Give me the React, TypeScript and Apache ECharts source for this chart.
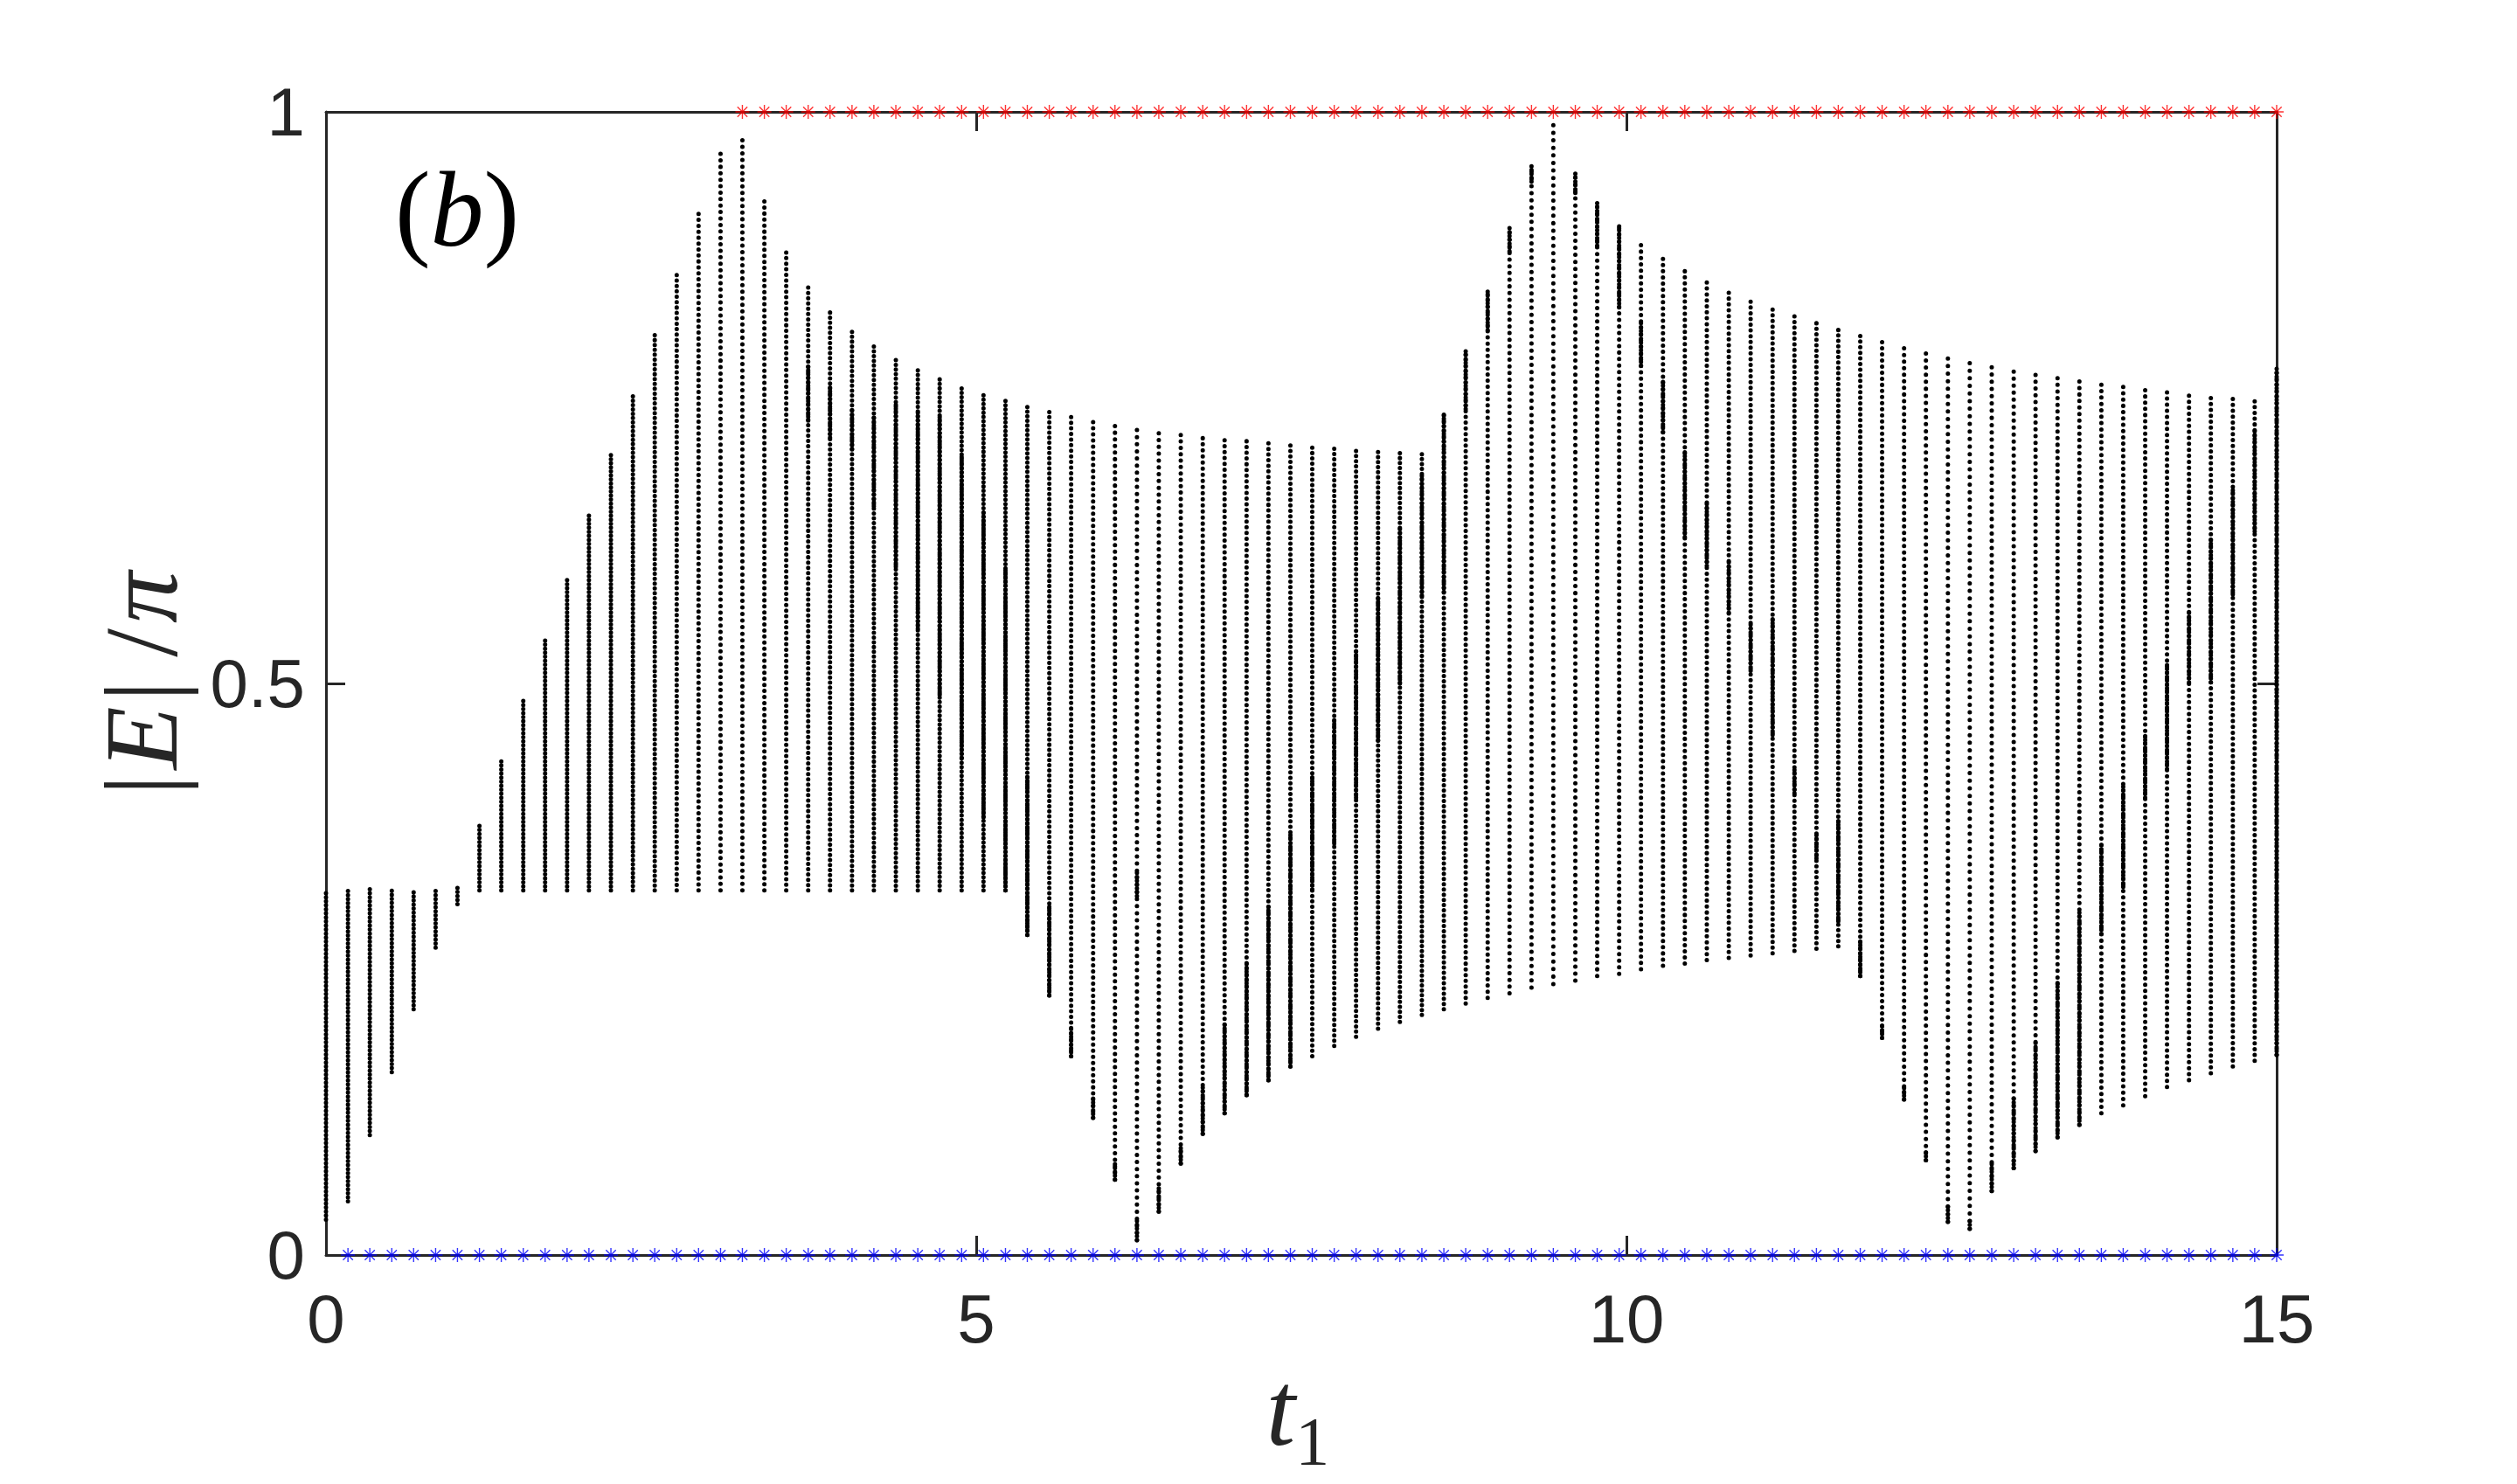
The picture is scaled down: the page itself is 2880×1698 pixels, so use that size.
import React, { useEffect, useRef } from 'react';
import * as echarts from 'echarts';

// t1 grid (90 columns, 0 … 15)
const tValues = [
  0, 0.169, 0.337, 0.506, 0.674, 0.843, 1.011, 1.180, 1.348, 1.517,
  1.685, 1.854, 2.022, 2.191, 2.360, 2.528, 2.697, 2.865, 3.034, 3.202,
  3.371, 3.539, 3.708, 3.876, 4.045, 4.213, 4.382, 4.551, 4.719, 4.888,
  5.056, 5.225, 5.393, 5.562, 5.730, 5.899, 6.067, 6.236, 6.404, 6.573,
  6.742, 6.910, 7.079, 7.247, 7.416, 7.584, 7.753, 7.921, 8.090, 8.258,
  8.427, 8.596, 8.764, 8.933, 9.101, 9.270, 9.438, 9.607, 9.775, 9.944,
  10.112, 10.281, 10.449, 10.618, 10.787, 10.955, 11.124, 11.292, 11.461, 11.629,
  11.798, 11.966, 12.135, 12.303, 12.472, 12.640, 12.809, 12.978, 13.146, 13.315,
  13.483, 13.652, 13.820, 13.989, 14.157, 14.326, 14.494, 14.663, 14.831, 15.000,
];

// lower edge of each column of |E|/pi values
const bandLow = [
  0.031, 0.047, 0.105, 0.160, 0.215, 0.269, 0.307, 0.319, 0.319, 0.319,
  0.319, 0.319, 0.319, 0.319, 0.319, 0.319, 0.319, 0.319, 0.319, 0.319,
  0.319, 0.319, 0.319, 0.319, 0.319, 0.319, 0.319, 0.319, 0.319, 0.319,
  0.319, 0.319, 0.280, 0.227, 0.174, 0.120, 0.066, 0.013, 0.038, 0.080,
  0.106, 0.124, 0.140, 0.153, 0.165, 0.174, 0.183, 0.191, 0.198, 0.204,
  0.210, 0.215, 0.220, 0.225, 0.229, 0.234, 0.237, 0.240, 0.244, 0.246,
  0.250, 0.253, 0.255, 0.258, 0.260, 0.262, 0.264, 0.266, 0.268, 0.270,
  0.244, 0.190, 0.136, 0.083, 0.029, 0.023, 0.056, 0.076, 0.091, 0.103,
  0.114, 0.124, 0.131, 0.139, 0.147, 0.153, 0.159, 0.165, 0.170, 0.175,
];

// upper edge of each column
const bandHigh = [
  0.320, 0.320, 0.320, 0.320, 0.320, 0.320, 0.323, 0.378, 0.432, 0.486,
  0.539, 0.593, 0.647, 0.700, 0.754, 0.808, 0.861, 0.915, 0.968, 0.980,
  0.926, 0.881, 0.850, 0.828, 0.811, 0.798, 0.786, 0.777, 0.769, 0.761,
  0.755, 0.750, 0.745, 0.741, 0.737, 0.733, 0.730, 0.727, 0.724, 0.722,
  0.719, 0.717, 0.716, 0.714, 0.712, 0.710, 0.709, 0.707, 0.706, 0.705,
  0.704, 0.738, 0.792, 0.845, 0.899, 0.953, 0.994, 0.948, 0.922, 0.903,
  0.888, 0.876, 0.865, 0.855, 0.846, 0.838, 0.831, 0.825, 0.819, 0.813,
  0.808, 0.803, 0.798, 0.794, 0.790, 0.786, 0.782, 0.778, 0.775, 0.772,
  0.769, 0.766, 0.764, 0.761, 0.759, 0.756, 0.754, 0.753, 0.751, 0.776,
];

// stretches where the eigenvalues crowd together (column index, low, high)
const denseIndex = [
  22, 23, 24, 25, 26, 27, 28, 29, 30, 31, 32, 33, 34, 35, 36, 37, 37, 38, 39,
  40, 41, 42, 43, 44, 45, 46, 47, 48, 49, 50, 51, 52, 53, 54, 55, 57, 58, 59,
  60, 61, 62, 63, 64, 65, 66, 67, 68, 69, 70, 71, 72, 73, 74, 75, 76, 77, 78,
  79, 80, 81, 82, 83, 84, 85, 86, 87, 88, 89,
];
const denseLow = [
  0.730, 0.715, 0.705, 0.655, 0.602, 0.548, 0.490, 0.435, 0.383, 0.319, 0.280, 0.227, 0.174, 0.120, 0.066, 0.013, 0.314, 0.038, 0.080,
  0.106, 0.124, 0.140, 0.153, 0.165, 0.320, 0.360, 0.400, 0.450, 0.500, 0.577, 0.580, 0.740, 0.809, 0.878, 0.939, 0.929, 0.883, 0.829,
  0.778, 0.720, 0.628, 0.603, 0.562, 0.511, 0.455, 0.404, 0.347, 0.292, 0.244, 0.190, 0.136, 0.083, 0.029, 0.023, 0.056, 0.076, 0.091,
  0.103, 0.114, 0.281, 0.322, 0.400, 0.425, 0.501, 0.501, 0.578, 0.633, 0.175,
];
const denseHigh = [
  0.780, 0.760, 0.740, 0.735, 0.745, 0.740, 0.735, 0.700, 0.650, 0.600, 0.420, 0.306, 0.200, 0.137, 0.082, 0.030, 0.336, 0.060, 0.096,
  0.147, 0.202, 0.255, 0.308, 0.370, 0.420, 0.470, 0.530, 0.578, 0.637, 0.684, 0.738, 0.792, 0.845, 0.899, 0.953, 0.948, 0.922, 0.903,
  0.816, 0.766, 0.705, 0.659, 0.608, 0.554, 0.557, 0.425, 0.368, 0.382, 0.276, 0.202, 0.148, 0.093, 0.044, 0.033, 0.082, 0.137, 0.186,
  0.239, 0.300, 0.360, 0.410, 0.455, 0.519, 0.565, 0.628, 0.672, 0.722, 0.776,
];

// |E| = pi modes (red) and zero modes (blue)
const piModeStartIndex = 19;
const piModeLevel = 1;
const zeroModeStartIndex = 1;
const zeroModeLevel = 0;

const xTickValues = [0, 5, 10, 15];
const yTickValues = [0, 0.5, 1];

const AXIS_COLOR = '#262626';
const STAR = 'path://M10 0L10 20M0 10L20 10M2.9 2.9L17.1 17.1M2.9 17.1L17.1 2.9';

const columnData = tValues.map((t, i) => [t, bandLow[i], bandHigh[i]]);
const denseData = denseIndex.map((k, j) => [tValues[k], denseLow[j], denseHigh[j]]);
const piModes = tValues.slice(piModeStartIndex).map((t) => [t, piModeLevel]);
const zeroModes = tValues.slice(zeroModeStartIndex).map((t) => [t, zeroModeLevel]);

function dottedColumn(divisor: number, minGap: number, width: number) {
  return (params: any, api: any) => {
    const x = api.value(0);
    const lo = api.value(1);
    const hi = api.value(2);
    const a = api.coord([x, lo]);
    const b = api.coord([x, hi]);
    const len = Math.abs(a[1] - b[1]);
    const gap = Math.max(len / divisor, minGap);
    return {
      type: 'line',
      shape: { x1: a[0], y1: a[1], x2: b[0], y2: b[1] },
      style: {
        stroke: '#000',
        fill: null,
        lineWidth: width,
        lineCap: 'round',
        lineDash: [0.01, gap],
      },
    };
  };
}

function boxAxis(position: string, showLabels: boolean, isX: boolean) {
  return {
    type: 'value',
    position,
    min: isX ? xTickValues[0] : yTickValues[0],
    max: isX ? xTickValues[xTickValues.length - 1] : yTickValues[yTickValues.length - 1],
    interval: isX ? xTickValues[1] - xTickValues[0] : yTickValues[1] - yTickValues[0],
    axisLine: { show: true, onZero: false, lineStyle: { color: AXIS_COLOR, width: 3 } },
    axisTick: { show: true, inside: true, length: 22, lineStyle: { color: AXIS_COLOR, width: 3 } },
    axisLabel: {
      show: showLabels,
      fontSize: 78,
      color: AXIS_COLOR,
      fontFamily: '"Liberation Sans", Arial, Helvetica, sans-serif',
      margin: isX ? 34 : 24,
    },
    splitLine: { show: false },
  };
}

export default function App() {
  const ref = useRef<HTMLDivElement>(null);
  useEffect(() => {
    if (!ref.current) return;
    const chart = echarts.init(ref.current, null, { renderer: 'svg' });
    const serif = '"Liberation Serif", "Times New Roman", serif';
    chart.setOption({
      animation: false,
      backgroundColor: '#ffffff',
      grid: { left: 373, top: 128, width: 2232, height: 1308, containLabel: false },
      xAxis: [boxAxis('bottom', true, true), boxAxis('top', false, true)],
      yAxis: [boxAxis('left', true, false), boxAxis('right', false, false)],
      series: [
        {
          type: 'custom',
          xAxisIndex: 0,
          yAxisIndex: 0,
          renderItem: dottedColumn(115, 4.6, 5),
          data: columnData,
          z: 2,
        },
        {
          type: 'custom',
          xAxisIndex: 0,
          yAxisIndex: 0,
          renderItem: dottedColumn(1000, 4.4, 5),
          data: denseData,
          z: 3,
        },
        {
          type: 'scatter',
          xAxisIndex: 0,
          yAxisIndex: 0,
          data: piModes,
          symbol: STAR,
          symbolSize: 16,
          clip: false,
          itemStyle: { color: 'rgba(0,0,0,0)', borderColor: '#ff0000', borderWidth: 1.4 },
          z: 5,
        },
        {
          type: 'scatter',
          xAxisIndex: 0,
          yAxisIndex: 0,
          data: zeroModes,
          symbol: STAR,
          symbolSize: 16,
          clip: false,
          itemStyle: { color: 'rgba(0,0,0,0)', borderColor: '#0000ff', borderWidth: 1.4 },
          z: 5,
        },
      ],
      graphic: [
        {
          type: 'text',
          x: 523,
          y: 239,
          z: 10,
          style: {
            text: '{p|(}{b|b}{p|)}',
            align: 'center',
            verticalAlign: 'middle',
            textAlign: 'center',
            textVerticalAlign: 'middle',
            rich: {
              p: { fontFamily: serif, fontSize: 122, fill: '#000', color: '#000' },
              b: { fontFamily: serif, fontStyle: 'italic', fontSize: 122, fill: '#000', color: '#000' },
            },
          },
        },
        {
          type: 'text',
          x: 162,
          y: 785,
          rotation: Math.PI / 2,
          z: 10,
          style: {
            text: '{n||}{i|E}{n||}{g| }{n|/}{i|π}',
            align: 'center',
            verticalAlign: 'middle',
            textAlign: 'center',
            textVerticalAlign: 'middle',
            rich: {
              n: { fontFamily: serif, fontSize: 118, fill: AXIS_COLOR, color: AXIS_COLOR, padding: [0, 6, 0, 6] },
              i: { fontFamily: serif, fontStyle: 'italic', fontSize: 118, fill: AXIS_COLOR, color: AXIS_COLOR },
              g: { fontFamily: serif, fontSize: 60, fill: AXIS_COLOR, color: AXIS_COLOR },
            },
          },
        },
        {
          type: 'text',
          x: 1485,
          y: 1612,
          z: 10,
          style: {
            text: '{t|t}{s|1}',
            align: 'center',
            verticalAlign: 'middle',
            textAlign: 'center',
            textVerticalAlign: 'middle',
            rich: {
              t: { fontFamily: serif, fontStyle: 'italic', fontSize: 120, lineHeight: 150, verticalAlign: 'middle', fill: AXIS_COLOR, color: AXIS_COLOR },
              s: { fontFamily: serif, fontSize: 78, lineHeight: 78, verticalAlign: 'bottom', fill: AXIS_COLOR, color: AXIS_COLOR },
            },
          },
        },
      ],
    });
    return () => chart.dispose();
  }, []);
  return (
    <div
      ref={ref}
      style={{ position: 'fixed', left: 0, top: 0, width: 2880, height: 1698, background: '#fff' }}
    />
  );
}
